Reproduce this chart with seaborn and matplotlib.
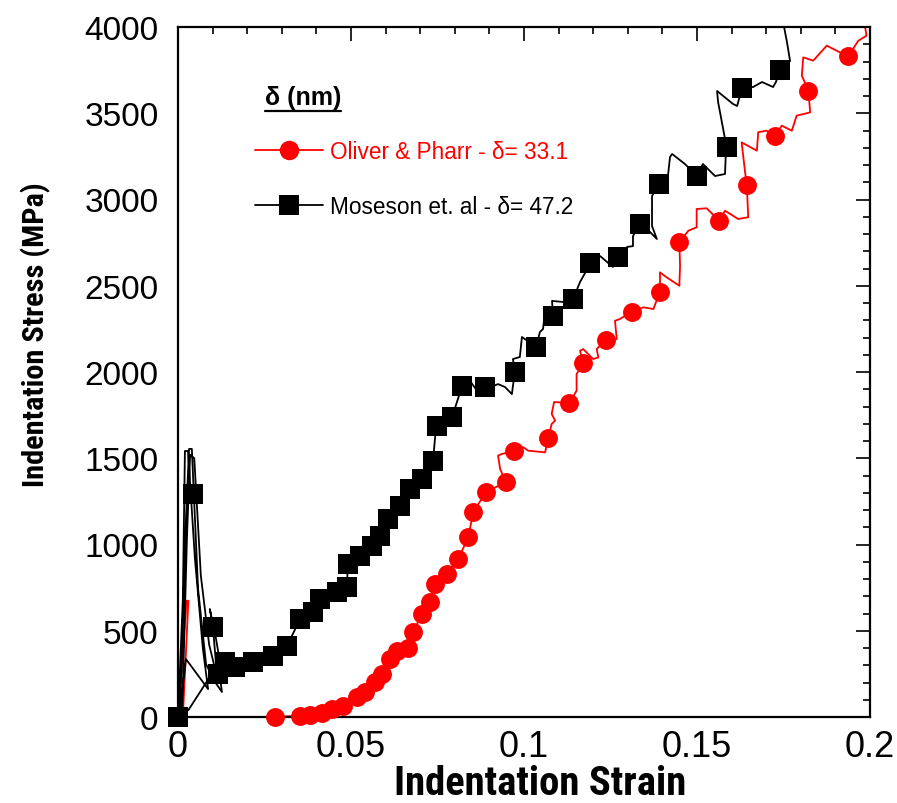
import matplotlib
matplotlib.use("Agg")
import matplotlib.pyplot as plt
from matplotlib import font_manager
from matplotlib.font_manager import FontProperties
from matplotlib.lines import Line2D
from matplotlib.ticker import MultipleLocator
import seaborn as sns
import pandas as pd

# ---- Oliver & Pharr (delta = 33.1 nm): trace vertices ----
op_strain = [0.0, 0.0025, 0.0030, 0.0014, 0.0280, 0.0353, 0.0382, 0.0415, 0.0444,
             0.0478, 0.0516, 0.0540, 0.0569, 0.0589, 0.0613, 0.0632, 0.0665, 0.0680,
             0.0704, 0.0728, 0.0743, 0.0777, 0.0810, 0.0839, 0.0853, 0.0890, 0.0947,
             0.0931, 0.0925, 0.0936, 0.0971, 0.0997, 0.1012, 0.1061, 0.1070, 0.1080,
             0.1090, 0.1080, 0.1087, 0.1131, 0.1152, 0.1152, 0.1171, 0.1162, 0.1171,
             0.1200, 0.1215, 0.1210, 0.1237, 0.1268, 0.1263, 0.1277, 0.1311, 0.1345,
             0.1374, 0.1393, 0.1393, 0.1412, 0.1449, 0.1451, 0.1449, 0.1475, 0.1499,
             0.1499, 0.1528, 0.1564, 0.1581, 0.1619, 0.1648, 0.1644, 0.1639, 0.1629,
             0.1673, 0.1677, 0.1701, 0.1725, 0.1745, 0.1774, 0.1788, 0.1827, 0.1822,
             0.1803, 0.1807, 0.1836, 0.1875, 0.1913, 0.1937, 0.1966, 0.1990, 0.1986,
             0.1994]
op_stress = [0, 674, 674, 0, 0, 8, 12, 23, 46,
             66, 114, 143, 201, 249, 336, 384, 400, 491,
             597, 665, 771, 829, 916, 1042, 1187, 1303, 1362,
             1438, 1515, 1525, 1540, 1565, 1544, 1534, 1617, 1699,
             1718, 1757, 1826, 1819, 1892, 1988, 2050, 2123, 2133,
             2075, 2085, 2133, 2187, 2191, 2297, 2307, 2350, 2375,
             2365, 2466, 2578, 2549, 2500, 2616, 2752, 2819, 2839,
             2945, 2949, 2877, 2935, 2887, 2897, 3086, 3158, 3331,
             3283, 3390, 3399, 3366, 3428, 3399, 3486, 3505, 3631,
             3718, 3824, 3805, 3892, 3853, 3830, 3920, 3950, 3998,
             4073]

# Oliver & Pharr: marked points
op_mark_strain = [0.0280, 0.0353, 0.0382, 0.0415, 0.0444, 0.0478, 0.0516, 0.0540,
                  0.0569, 0.0589, 0.0613, 0.0632, 0.0665, 0.0680, 0.0704, 0.0728,
                  0.0743, 0.0777, 0.0810, 0.0839, 0.0853, 0.0890, 0.0947, 0.0971,
                  0.1070, 0.1131, 0.1171, 0.1237, 0.1311, 0.1393, 0.1449, 0.1564,
                  0.1644, 0.1725, 0.1822, 0.1937]
op_mark_stress = [0, 8, 12, 23, 46, 66, 114, 143,
                  201, 249, 336, 384, 400, 491, 597, 665,
                  771, 829, 916, 1042, 1187, 1303, 1362, 1540,
                  1617, 1819, 2050, 2187, 2350, 2466, 2752, 2877,
                  3086, 3366, 3631, 3830]

# ---- Moseson et al. (delta = 47.2 nm): trace vertices ----
mo_strain = [0.0, 0.0014, 0.0020, 0.0029, 0.0049, 0.0072, 0.0087, 0.0023, 0.0006,
             0.0023, 0.0032, 0.0040, 0.0058, 0.0081, 0.0107, 0.0127, 0.0116, 0.0030,
             0.0012, 0.0026, 0.0035, 0.0047, 0.0066, 0.0090, 0.0113, 0.0101,
             0.0092, 0.0110, 0.0127, 0.0165, 0.0217, 0.0275, 0.0315, 0.0353, 0.0390,
             0.0410, 0.0460, 0.0488, 0.0491, 0.0526, 0.0561, 0.0584, 0.0607, 0.0642,
             0.0671, 0.0705, 0.0737, 0.0746, 0.0760, 0.0792, 0.0809, 0.0821, 0.0844,
             0.0867, 0.0890, 0.0925, 0.0945, 0.0965, 0.0968, 0.0974, 0.0968, 0.0988,
             0.0994, 0.1035, 0.1046, 0.1055, 0.1061, 0.1084, 0.1081, 0.1113, 0.1142,
             0.1162, 0.1191, 0.1220, 0.1257, 0.1272, 0.1298, 0.1315, 0.1315, 0.1335,
             0.1364, 0.1384, 0.1370, 0.1370, 0.1390, 0.1416, 0.1422, 0.1428, 0.1465,
             0.1500, 0.1517, 0.1552, 0.1581, 0.1584, 0.1581, 0.1561, 0.1558, 0.1604,
             0.1616, 0.1630, 0.1662, 0.1688, 0.1720, 0.1728, 0.1740, 0.1769, 0.1760,
             0.1751, 0.1749]
mo_stress = [0, 684, 1542, 1542, 916, 394, 162, 336, 35,
             1148, 1554, 1554, 742, 307, 203, 145, 307, 40,
             20, 1050, 1520, 1500, 820, 420, 230, 522,
             626, 452, 249, 290, 319, 354, 412, 568, 609,
             684, 725, 754, 887, 933, 991, 1049, 1148, 1223,
             1322, 1380, 1484, 1687, 1727, 1739, 1843, 1919, 1948,
             1884, 1901, 1930, 1913, 1872, 1919, 2000, 2075, 2087,
             2203, 2145, 2232, 2249, 2354, 2325, 2412, 2406, 2423,
             2522, 2626, 2672, 2609, 2667, 2725, 2730, 2788, 2858,
             2812, 2771, 2846, 3020, 3090, 3136, 3246, 3264, 3206,
             3136, 3206, 3136, 3148, 3304, 3351, 3565, 3629, 3554,
             3542, 3646, 3652, 3681, 3652, 3681, 3751, 3803, 3913,
             4006, 4104]

# Moseson et al.: marked points
mo_mark_strain = [0.0, 0.0044, 0.0102, 0.0136, 0.0116, 0.0165, 0.0218, 0.0275,
                  0.0314, 0.0353, 0.0391, 0.0410, 0.0459, 0.0488, 0.0492, 0.0526,
                  0.0560, 0.0584, 0.0608, 0.0642, 0.0671, 0.0704, 0.0738, 0.0748,
                  0.0791, 0.0820, 0.0887, 0.0974, 0.1035, 0.1083, 0.1141, 0.1191,
                  0.1273, 0.1335, 0.1391, 0.1501, 0.1586, 0.1629, 0.1741]
mo_mark_stress = [0, 1293, 520, 317, 249, 290, 317, 355,
                  413, 568, 607, 684, 723, 752, 887, 935,
                  993, 1051, 1148, 1225, 1322, 1380, 1486, 1689,
                  1737, 1921, 1911, 1998, 2143, 2323, 2423, 2632,
                  2668, 2858, 3090, 3138, 3303, 3645, 3751]

legend_title = "δ (nm)"
legend_labels = ["Oliver & Pharr - δ= 33.1", "Moseson et. al - δ= 47.2"]
x_ticks = [0, 0.05, 0.1, 0.15, 0.2]
x_tick_labels = ["0", "0.05", "0.1", "0.15", "0.2"]
y_ticks = [0, 500, 1000, 1500, 2000, 2500, 3000, 3500, 4000]

RED = "#ff0000"
BLACK = "#000000"

sns.set_style("white")
plt.rcParams["font.family"] = ["Liberation Sans", "DejaVu Sans"]
for key in ("text.color", "axes.labelcolor", "xtick.color", "ytick.color", "axes.edgecolor"):
    plt.rcParams[key] = BLACK


def _is_bold(entry):
    w = entry.weight
    if isinstance(w, str):
        return w in ("bold", "heavy", "black", "demibold", "semibold", "extra bold")
    return w >= 600


def _is_narrow(entry):
    if "narrow" in entry.name.lower() or "condensed" in entry.name.lower():
        return True
    s = entry.stretch
    if isinstance(s, str):
        return s in ("condensed", "semi-condensed", "extra-condensed", "ultra-condensed")
    return s < 500


def narrow_bold_font():
    """Pick a narrow bold sans face for the axis titles."""
    prefs = ["Liberation Sans Narrow", "Roboto Condensed", "Noto Sans", "Open Sans",
             "Roboto", "DejaVu Sans"]
    pool = [f for f in font_manager.fontManager.ttflist
            if _is_bold(f) and _is_narrow(f) and "italic" not in f.style.lower()
            and "oblique" not in f.style.lower()]
    for name in prefs:
        for f in pool:
            if f.name.startswith(name):
                return f.fname
    return None


label_file = narrow_bold_font()

fig = plt.figure(figsize=(8.97, 8.04), dpi=100)
ax = fig.add_axes([178 / 897, 1 - 718 / 804, 692 / 897, 690 / 804])

op_line = pd.DataFrame({"strain": op_strain, "stress": op_stress})
mo_line = pd.DataFrame({"strain": mo_strain, "stress": mo_stress})
op_pts = pd.DataFrame({"strain": op_mark_strain, "stress": op_mark_stress})
mo_pts = pd.DataFrame({"strain": mo_mark_strain, "stress": mo_mark_stress})

sns.lineplot(data=op_line, x="strain", y="stress", sort=False, estimator=None,
             color=RED, lw=1.3, ax=ax, zorder=2)
sns.scatterplot(data=op_pts, x="strain", y="stress", marker="o", s=185,
                color=RED, edgecolor=RED, linewidth=0, ax=ax, zorder=3, clip_on=False)
sns.lineplot(data=mo_line, x="strain", y="stress", sort=False, estimator=None,
             color=BLACK, lw=1.3, ax=ax, zorder=4)
sns.scatterplot(data=mo_pts, x="strain", y="stress", marker="s", s=200,
                color=BLACK, edgecolor=BLACK, linewidth=0, ax=ax, zorder=5, clip_on=False)

ax.set_xlim(0, 0.2)
ax.set_ylim(0, 4000)
ax.set_xticks(x_ticks)
ax.set_xticklabels(x_tick_labels)
ax.set_yticks(y_ticks)
ax.xaxis.set_minor_locator(MultipleLocator(0.01))
ax.yaxis.set_minor_locator(MultipleLocator(100))
ax.tick_params(which="both", direction="in", top=True, right=True, width=1.2, color=BLACK)
ax.tick_params(which="major", length=10)
ax.tick_params(which="minor", length=5)
ax.tick_params(axis="x", which="major", labelsize=26, pad=9, labelcolor=BLACK)
ax.tick_params(axis="y", which="major", labelsize=24, pad=14, labelcolor=BLACK)
for sp in ax.spines.values():
    sp.set_visible(True)
    sp.set_linewidth(1.6)
    sp.set_color(BLACK)

if label_file:
    lab_kw = dict(fontproperties=FontProperties(fname=label_file, size=28))
else:
    lab_kw = dict(fontsize=28, fontweight="bold")
xlab = ax.set_xlabel("Indentation Strain", color=BLACK, **lab_kw)
ylab = ax.set_ylabel("Indentation Stress (MPa)", color=BLACK, **lab_kw)

# size the axis titles so each spans its fixed length (pixels)
fig.canvas.draw()
rend = fig.canvas.get_renderer()
for lab, span, horizontal in ((xlab, 293, True), (ylab, 305, False)):
    bb = lab.get_window_extent(rend)
    cur = bb.width if horizontal else bb.height
    lab.set_fontsize(lab.get_fontsize() * span / cur)

ax.xaxis.set_label_coords(0.523, -0.068)
ax.yaxis.set_label_coords(-0.183, 0.556)

handles = [
    Line2D([], [], color=RED, lw=1.3, marker="o", markersize=14, markeredgewidth=0),
    Line2D([], [], color=BLACK, lw=1.3, marker="s", markersize=14, markeredgewidth=0),
]
leg = ax.legend(handles, legend_labels, loc="upper left", bbox_to_anchor=(0.111, 0.836),
                frameon=False, fontsize=16.3, numpoints=1, handlelength=3.0,
                handletextpad=0.3, labelspacing=1.42, borderpad=0, borderaxespad=0)
leg.get_texts()[0].set_color(RED)
leg.get_texts()[1].set_color(BLACK)

title = ax.text(0.1257, 0.888, legend_title, transform=ax.transAxes, fontsize=18,
                fontweight="bold", va="baseline", ha="left", color=BLACK)

fig.canvas.draw()
bb = title.get_window_extent(fig.canvas.get_renderer())
inv = fig.transFigure.inverted()
(x0, y0), (x1, _) = inv.transform([(bb.x0, bb.y0 - 1.5), (bb.x1, bb.y0)])
fig.add_artist(Line2D([x0, x1], [y0, y0], transform=fig.transFigure, color=BLACK, lw=1.6))

fig.savefig("out.png", dpi=100)
